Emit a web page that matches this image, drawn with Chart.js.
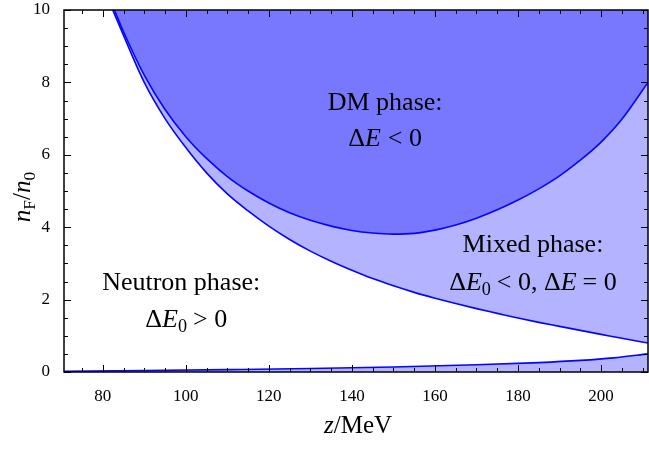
<!DOCTYPE html>
<html>
<head>
<meta charset="utf-8">
<script src="https://cdn.jsdelivr.net/npm/chart.js@4"></script>
<style>
  html, body { margin: 0; padding: 0; background: #fff; }
  #wrap { width: 649px; height: 449px; }
</style>
</head>
<body>
<div id="wrap"><canvas id="phase"></canvas></div>
<script>
// Phase diagram data
const dmZ  = [82.8, 85, 90, 95, 100, 105, 110, 115, 120, 125, 130, 135, 140, 145, 150, 155, 160, 165, 170, 175, 180, 185, 190, 195, 200, 205, 211.3];
const dmN  = [10, 9.4, 8.2, 7.25, 6.5, 5.9, 5.4, 5.0, 4.67, 4.40, 4.19, 4.03, 3.91, 3.84, 3.81, 3.83, 3.92, 4.06, 4.25, 4.48, 4.75, 5.06, 5.42, 5.85, 6.35, 6.98, 8.0];

const mixZ = [82.4, 85, 90, 95, 100, 105, 110, 115, 120, 125, 130, 135, 140, 145, 150, 155, 160, 165, 170, 175, 180, 185, 190, 195, 200, 205, 211.3];
const mixN = [10, 9.3, 8.0, 7.0, 6.2, 5.5, 4.92, 4.45, 4.03, 3.66, 3.34, 3.06, 2.81, 2.58, 2.38, 2.20, 2.04, 1.89, 1.75, 1.62, 1.49, 1.37, 1.26, 1.15, 1.04, 0.93, 0.80];

const botZ = [70.7, 90, 110, 130, 150, 170, 185, 195, 203, 211.3];
const botN = [0.02, 0.04, 0.065, 0.095, 0.14, 0.2, 0.26, 0.32, 0.39, 0.5];

const xTicks = [80, 100, 120, 140, 160, 180, 200];
const yTicks = [0, 2, 4, 6, 8, 10];

const SERIF = '"Liberation Serif", "DejaVu Serif", serif';
const LINE = '#0505ff';

const pts = (xs, ys) => xs.map((x, i) => ({ x, y: ys[i] }));

// draw a run of text pieces: n = upright, i = italic, sub = subscript
function drawRuns(ctx, runs, cx, cy, size, rotate) {
    const fontOf = r => {
        const s = r.s === 'sub' ? size * 0.7 : size;
        return (r.s === 'i' ? 'italic ' : '') + s + 'px ' + SERIF;
    };
    let w = 0;
    runs.forEach(r => { ctx.font = fontOf(r); w += ctx.measureText(r.t).width + (r.gap || 0); });
    ctx.save();
    ctx.translate(cx, cy);
    if (rotate) ctx.rotate(-Math.PI / 2);
    ctx.fillStyle = '#000';
    ctx.textBaseline = 'alphabetic';
    ctx.textAlign = 'left';
    let x = -w / 2;
    runs.forEach(r => {
        ctx.font = fontOf(r);
        const dy = r.s === 'sub' ? size * 0.2 : 0;
        ctx.fillText(r.t, x, dy);
        x += ctx.measureText(r.t).width + (r.gap || 0);
    });
    ctx.restore();
}

const frame = {
    id: 'frame',
    afterDatasetsDraw(chart) {
        const { ctx, chartArea: a, scales } = chart;
        const xs = scales.x, ys = scales.y;
        ctx.save();
        ctx.strokeStyle = '#000';

        // ticks, pointing inward, on all four sides
        ctx.lineWidth = 1;
        ctx.beginPath();
        for (let v = 70; v <= 211; v += 5) {
            if (v < xs.min || v > xs.max) continue;
            const px = Math.round(xs.getPixelForValue(v)) + 0.5;
            const len = v % 20 === 0 ? 7 : 4;
            ctx.moveTo(px, a.bottom); ctx.lineTo(px, a.bottom - len);
            ctx.moveTo(px, a.top); ctx.lineTo(px, a.top + len);
        }
        for (let v = 0; v <= 10; v += 0.5) {
            const py = Math.round(ys.getPixelForValue(v)) + 0.5;
            const len = v % 2 === 0 ? 7 : 4;
            ctx.moveTo(a.left, py); ctx.lineTo(a.left + len, py);
            ctx.moveTo(a.right, py); ctx.lineTo(a.right - len, py);
        }
        ctx.stroke();

        ctx.lineWidth = 1.5;
        ctx.strokeRect(a.left, a.top, a.right - a.left, a.bottom - a.top);

        // region labels
        const P = (z, n) => [xs.getPixelForValue(z), ys.getPixelForValue(n)];
        const sz = 26;
        let p = P(148, 7.25);
        drawRuns(ctx, [{ t: 'DM phase:', s: 'n' }], p[0], p[1], sz);
        p = P(148, 6.25);
        drawRuns(ctx, [{ t: 'Δ', s: 'n' }, { t: 'E', s: 'i', gap: 7 }, { t: '< 0', s: 'n' }], p[0], p[1], sz);

        p = P(183.6, 3.31);
        drawRuns(ctx, [{ t: 'Mixed phase:', s: 'n' }], p[0], p[1], sz);
        p = P(183.6, 2.27);
        drawRuns(ctx, [
            { t: 'Δ', s: 'n' }, { t: 'E', s: 'i' }, { t: '0', s: 'sub', gap: 6 },
            { t: '< 0, Δ', s: 'n' }, { t: 'E', s: 'i', gap: 6 }, { t: '= 0', s: 'n' }
        ], p[0], p[1], sz);

        p = P(98.9, 2.27);
        drawRuns(ctx, [{ t: 'Neutron phase:', s: 'n' }], p[0], p[1], sz);
        p = P(100.1, 1.24);
        drawRuns(ctx, [{ t: 'Δ', s: 'n' }, { t: 'E', s: 'i' }, { t: '0', s: 'sub', gap: 6 }, { t: '> 0', s: 'n' }], p[0], p[1], sz);

        // axis titles
        drawRuns(ctx, [{ t: 'z', s: 'i' }, { t: '/MeV', s: 'n' }], (a.left + a.right) / 2 + 2, 433, 25);
        drawRuns(ctx, [
            { t: 'n', s: 'i' }, { t: 'F', s: 'sub' }, { t: '/', s: 'n' },
            { t: 'n', s: 'i' }, { t: '0', s: 'sub' }
        ], 30, (a.top + a.bottom) / 2 + 6, 25, true);

        ctx.restore();
    }
};

const curve = {
    showLine: true,
    pointRadius: 0,
    borderColor: LINE,
    borderWidth: 1.6,
    cubicInterpolationMode: 'monotone'
};

new Chart(document.getElementById('phase'), {
    type: 'scatter',
    data: {
        datasets: [
            { ...curve, label: 'DM', data: pts(dmZ, dmN), fill: 'end', backgroundColor: 'rgb(120,120,255)' },
            { ...curve, label: 'Mixed', data: pts(mixZ, mixN), fill: 'end', backgroundColor: 'rgb(179,179,255)' },
            { ...curve, label: 'Bottom', data: pts(botZ, botN), fill: 'origin', backgroundColor: 'rgb(179,179,255)' }
        ]
    },
    options: {
        responsive: true,
        maintainAspectRatio: false,
        animation: false,
        layout: { padding: { top: 10, right: 1, left: 0, bottom: 0 } },
        plugins: { legend: { display: false }, tooltip: { enabled: false } },
        scales: {
            x: {
                type: 'linear', min: 70.67, max: 211.3,
                border: { display: false },
                grid: { display: false },
                afterBuildTicks: s => { s.ticks = xTicks.map(v => ({ value: v })); },
                afterFit: s => { s.height = 77; s.paddingLeft = 0; s.paddingRight = 0; },
                ticks: { color: '#000', padding: 6, maxRotation: 0, font: { family: SERIF, size: 17 } }
            },
            y: {
                type: 'linear', min: 0, max: 10,
                border: { display: false },
                grid: { display: false },
                afterBuildTicks: s => { s.ticks = yTicks.map(v => ({ value: v })); },
                afterFit: s => { s.width = 64; s.paddingTop = 0; s.paddingBottom = 0; },
                ticks: { color: '#000', padding: 6, font: { family: SERIF, size: 17 } }
            }
        }
    },
    plugins: [frame]
});
</script>
</body>
</html>
